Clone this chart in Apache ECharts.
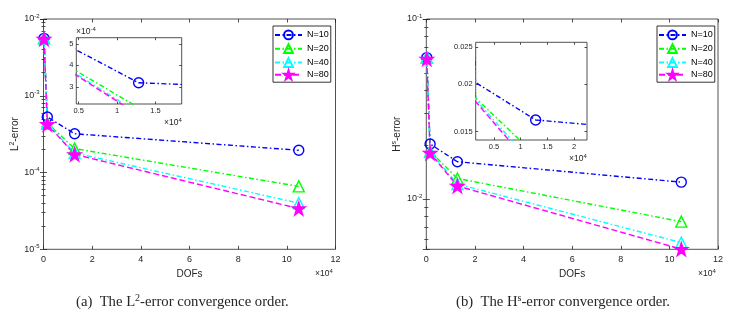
<!DOCTYPE html>
<html><head><meta charset="utf-8">
<script src="https://cdn.jsdelivr.net/npm/echarts@6/dist/echarts.min.js"></script>
<style>html,body{margin:0;padding:0;background:#fff}#c{width:738px;height:315px}</style>
</head><body><div id="c"></div>
<script>
// ---------- data ----------
const dofs = [200, 1570, 12800, 104900];
const seriesNames = ['N=10', 'N=20', 'N=40', 'N=80'];
const l2N10 = [5.6e-3, 5.3e-4, 3.2e-4, 1.95e-4];
const l2N20 = [5.6e-3, 4.4e-4, 2.05e-4, 6.6e-5];
const l2N40 = [5.6e-3, 4.3e-4, 1.8e-4, 4.0e-5];
const l2N80 = [5.5e-3, 4.25e-4, 1.72e-4, 3.4e-5];
const hsN10 = [0.061, 0.0202, 0.0161, 0.0124];
const hsN20 = [0.061, 0.0184, 0.0130, 0.00748];
const hsN40 = [0.061, 0.0182, 0.0121, 0.00572];
const hsN80 = [0.060, 0.0180, 0.0118, 0.00526];
const xTicks = [0, 20000, 40000, 60000, 80000, 100000, 120000];
const insetAXTicks = [5000, 10000, 15000];
const insetAYTicks = [3e-4, 4e-4, 5e-4];
const insetBXTicks = [5000, 10000, 15000, 20000];
const insetBYTicks = [0.015, 0.02, 0.025];

// ---------- styling ----------
const F = 'Liberation Sans';
const C = '#262626';
const STAR = 'path://M50 0L61.23 34.55L97.55 34.55L68.16 55.9L79.39 90.45L50 69.1L20.61 90.45L31.84 55.9L2.45 34.55L38.77 34.55Z';
const DD = [5, 2.5, 1.5, 2.5];
const styles = [
  {color: '#0000ff', dash: DD, symbol: 'circle', size: 10, fill: 'none'},
  {color: '#00ff00', dash: DD, symbol: 'triangle', size: 11, fill: 'none'},
  {color: '#00ffff', dash: DD, symbol: 'triangle', size: 11, fill: 'none'},
  {color: '#ff00ff', dash: [6, 3], symbol: STAR, size: 13, fill: '#ff00ff'}
];
function mk(i, vals, xi, yi, z) {
  const st = styles[i];
  return {
    type: 'line', name: seriesNames[i], xAxisIndex: xi, yAxisIndex: yi, z: z,
    data: dofs.map((d, k) => [d, vals[k]]),
    symbol: st.symbol, symbolSize: st.size, showAllSymbol: true, clip: true,
    animation: false, emphasis: {disabled: true},
    lineStyle: {color: st.color, width: 1.4, type: st.dash},
    itemStyle: {color: st.fill, borderColor: st.color, borderWidth: 1.4}
  };
}
const tickStyle = {color: C, width: 0.8};
function powLabel(v) {
  const e = Math.log10(v), r = Math.round(e);
  if (Math.abs(e - r) > 1e-6) return '';
  return '{b|10}{s|' + r + '}';
}
const powRich = {
  b: {fontSize: 9, fontFamily: F, color: C, lineHeight: 12},
  s: {fontSize: 6, fontFamily: F, color: C, verticalAlign: 'top'}
};
const nameRich = {
  b: {fontSize: 10, fontFamily: F, color: C, lineHeight: 13},
  s: {fontSize: 7, fontFamily: F, color: C, verticalAlign: 'top'}
};
function gridBox(l, t, w, h, bg, z) {
  return {left: l, top: t, width: w, height: h, show: true, borderColor: C, borderWidth: 0.8,
          backgroundColor: bg, z: z, containLabel: false, outerBoundsMode: 'none'};
}
function mainX(g, pos, showLabel) {
  return {
    type: 'value', gridIndex: g, position: pos, min: 0, max: 120000,
    axisLine: {show: false},
    axisTick: {inside: true, length: 3.5, lineStyle: tickStyle, customValues: xTicks},
    axisLabel: {show: showLabel, customValues: xTicks, formatter: v => String(v / 1e4), fontSize: 9, fontFamily: F, color: C, margin: 6},
    splitLine: {show: false},
    name: showLabel ? 'DOFs' : '', nameLocation: 'middle', nameGap: 17,
    nameTextStyle: {fontSize: 10, fontFamily: F, color: C}
  };
}
function mainY(g, pos, min, max, showLabel, name, gap) {
  return {
    type: 'log', logBase: 10, gridIndex: g, position: pos, min: min, max: max,
    axisLine: {show: false},
    axisTick: {inside: true, length: 3.5, lineStyle: tickStyle},
    minorTick: {show: true, splitNumber: 9, length: 2, lineStyle: tickStyle},
    axisLabel: {show: showLabel, formatter: powLabel, rich: powRich, margin: 4},
    splitLine: {show: false}, minorSplitLine: {show: false},
    name: showLabel ? name : '', nameLocation: 'middle', nameRotate: 90, nameGap: gap,
    nameTextStyle: {rich: nameRich}
  };
}
function insetX(g, pos, min, max, ticks, showLabel) {
  return {
    type: 'value', gridIndex: g, position: pos, min: min, max: max, z: 6,
    axisLine: {show: false},
    axisTick: {inside: true, length: 2.5, lineStyle: tickStyle, customValues: ticks},
    axisLabel: {show: showLabel, customValues: ticks, formatter: v => String(v / 1e4), fontSize: 7.5, fontFamily: F, color: C, margin: 3},
    splitLine: {show: false}
  };
}
function insetY(g, pos, type, min, max, ticks, fmt, showLabel) {
  return {
    type: type, gridIndex: g, position: pos, min: min, max: max, z: 6,
    axisLine: {show: false},
    axisTick: {inside: true, length: 2.5, lineStyle: tickStyle, customValues: ticks},
    axisLabel: {show: showLabel, customValues: ticks, formatter: fmt, fontSize: 7.5, fontFamily: F, color: C, margin: 3},
    splitLine: {show: false}
  };
}
function legend(l, t) {
  return {
    data: seriesNames, left: l, top: t, orient: 'vertical', selectedMode: false,
    itemWidth: 27, itemHeight: 11, itemGap: 0, padding: [2, 2, 2, 1],
    borderColor: '#000', borderWidth: 0.8, backgroundColor: '#fff',
    textStyle: {fontSize: 9, fontFamily: F, color: '#000'}
  };
}
function txt(x, y, text, rich, extra) {
  return Object.assign({type: 'text', x: x, y: y, z: 50,
    style: {text: text, rich: rich, verticalAlign: 'middle', fill: C}}, extra || {});
}
const smallRich = {
  b: {fontSize: 8.5, fontFamily: F, color: C, lineHeight: 11},
  s: {fontSize: 6, fontFamily: F, color: C, verticalAlign: 'top'}
};
const capRich = {
  b: {fontSize: 14.7, fontFamily: 'Liberation Serif', color: '#000', lineHeight: 18},
  s: {fontSize: 10, fontFamily: 'Liberation Serif', color: '#000', verticalAlign: 'top'}
};

const option = {
  animation: false,
  backgroundColor: '#fff',
  grid: [
    gridBox(43.5, 19, 292, 230.3, 'transparent', 0),
    gridBox(426.3, 19, 291.7, 230.3, 'transparent', 0),
    gridBox(76.3, 37.7, 105.4, 66.3, '#fff', 5),
    gridBox(475.7, 42.3, 111.3, 97.7, '#fff', 5)
  ],
  xAxis: [
    mainX(0, 'bottom', true), mainX(0, 'top', false),
    mainX(1, 'bottom', true), mainX(1, 'top', false),
    insetX(2, 'bottom', 4700, 18400, insetAXTicks, true), insetX(2, 'top', 4700, 18400, insetAXTicks, false),
    insetX(3, 'bottom', 1590, 22400, insetBXTicks, true), insetX(3, 'top', 1590, 22400, insetBXTicks, false)
  ],
  yAxis: [
    mainY(0, 'left', 1e-5, 1e-2, true, '{b|L}{s|2}{b|-error}', 14.5),
    mainY(0, 'right', 1e-5, 1e-2, false, '', 0),
    mainY(1, 'left', 0.00525, 0.1, true, '{b|H}{s|s}{b|-error}', 23),
    mainY(1, 'right', 0.00525, 0.1, false, '', 0),
    insetY(2, 'left', 'value', 2.22e-4, 5.28e-4, insetAYTicks, v => String(Math.round(v * 1e4)), true),
    insetY(2, 'right', 'value', 2.22e-4, 5.28e-4, insetAYTicks, v => '', false),
    insetY(3, 'left', 'log', 0.01426, 0.02576, insetBYTicks, v => String(+v.toPrecision(3)), true),
    insetY(3, 'right', 'log', 0.01426, 0.02576, insetBYTicks, v => '', false)
  ],
  legend: [legend(273, 26), legend(657, 26)],
  series: [
    mk(0, l2N10, 0, 0, 2), mk(1, l2N20, 0, 0, 2), mk(2, l2N40, 0, 0, 2), mk(3, l2N80, 0, 0, 2),
    mk(0, hsN10, 2, 2, 2), mk(1, hsN20, 2, 2, 2), mk(2, hsN40, 2, 2, 2), mk(3, hsN80, 2, 2, 2),
    mk(0, l2N10, 4, 4, 7), mk(1, l2N20, 4, 4, 7), mk(2, l2N40, 4, 4, 7), mk(3, l2N80, 4, 4, 7),
    mk(0, hsN10, 6, 6, 7), mk(1, hsN20, 6, 6, 7), mk(2, hsN40, 6, 6, 7), mk(3, hsN80, 6, 6, 7)
  ],
  graphic: [
    txt(315, 274, '{b|×10}{s|4}', smallRich),
    txt(698, 274, '{b|×10}{s|4}', smallRich),
    txt(76, 32, '{b|×10}{s|-4}', smallRich),
    txt(164, 123, '{b|×10}{s|4}', smallRich),
    txt(569, 159, '{b|×10}{s|4}', smallRich),
    txt(76, 302, '{b|(a)  The L}{s|2}{b|-error convergence order.}', capRich),
    txt(456, 302, '{b|(b)  The H}{s|s}{b|-error convergence order.}', capRich)
  ]
};
const chart = echarts.init(document.getElementById('c'), null, {renderer: 'canvas'});
chart.setOption(option);
</script>
</body></html>
